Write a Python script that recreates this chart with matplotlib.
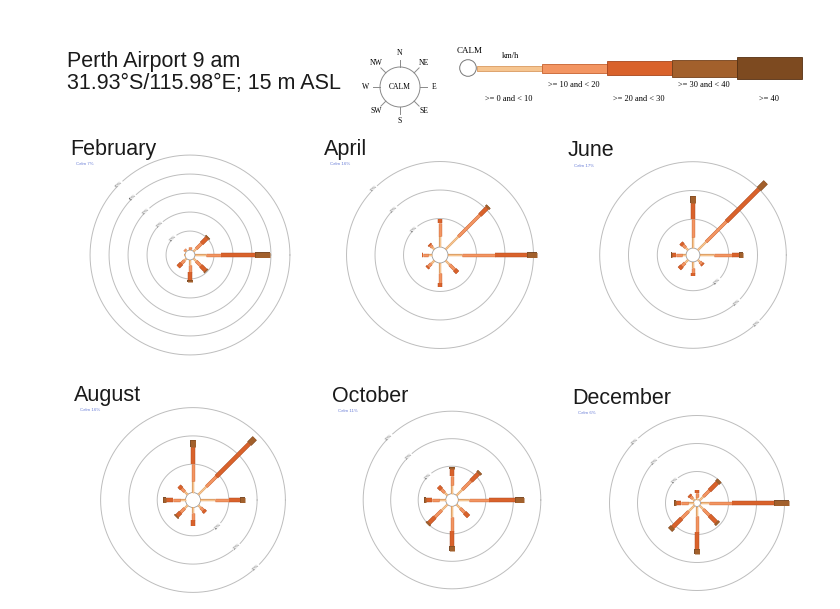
import numpy as np
import matplotlib
matplotlib.use('Agg')
import matplotlib.pyplot as plt
import matplotlib.patheffects as pe
from matplotlib.patches import Circle, Rectangle

plt.rcParams['font.family'] = 'Liberation Sans'

# wind frequency (%) per direction, split by speed class (km/h)
directions = ['N', 'NE', 'E', 'SE', 'S', 'SW', 'W', 'NW']
speed_classes = ['>= 0 and < 10', '>= 10 and < 20', '>= 20 and < 30',
                 '>= 30 and < 40', '>= 40']

months = ['February', 'April', 'June', 'August', 'October', 'December']
calm_pct = [7, 16, 17, 16, 11, 6]

feb = [[0.8, 0.9, 0, 0, 0],
       [2.0, 4.0, 4.2, 0.7, 0],
       [6.0, 7.7, 17.9, 7.7, 0],
       [2.0, 3.5, 3.5, 0.6, 0],
       [2.5, 4.0, 4.3, 0.8, 0],
       [1.5, 2.2, 2.5, 0, 0],
       [0.5, 0.3, 0, 0, 0],
       [0.7, 0.7, 0, 0, 0]]
apr = [[4.0, 4.5, 1.5, 0, 0],
       [6.3, 10.7, 3.6, 0.7, 0],
       [4.8, 11.7, 11.1, 3.5, 0],
       [2.0, 2.5, 1.4, 0, 0],
       [3.5, 3.5, 1.3, 0, 0],
       [1.5, 1.5, 0.6, 0, 0],
       [1.5, 1.5, 0.6, 0, 0],
       [1.0, 1.0, 0.5, 0, 0]]
jun = [[4.0, 6.0, 5.7, 2.3, 0],
       [4.0, 10.0, 16.0, 3.3, 0],
       [5.0, 6.2, 2.5, 1.4, 0],
       [1.0, 1.0, 0.5, 0, 0],
       [2.0, 2.0, 1.0, 0, 0],
       [1.5, 1.5, 1.3, 0, 0],
       [1.5, 2.0, 1.3, 0.5, 0],
       [1.2, 1.3, 1.0, 0, 0]]
aug = [[4.0, 6.0, 6.0, 2.6, 0],
       [4.0, 5.0, 16.5, 2.7, 0],
       [5.0, 5.0, 4.0, 1.9, 0],
       [1.2, 1.3, 1.0, 0, 0],
       [2.0, 2.5, 2.1, 0, 0],
       [1.5, 2.0, 1.8, 0.5, 0],
       [2.0, 2.5, 2.3, 1.0, 0],
       [1.5, 1.5, 1.3, 0, 0]]
octo = [[3.0, 3.5, 2.5, 0.6, 0],
        [3.0, 4.5, 3.8, 0.8, 0],
        [4.0, 7.0, 9.7, 3.3, 0],
        [2.0, 2.2, 2.0, 0, 0],
        [4.0, 5.0, 5.5, 1.6, 0],
        [3.0, 3.5, 3.0, 0.7, 0],
        [2.5, 2.5, 2.2, 0.6, 0],
        [1.5, 1.7, 1.4, 0, 0]]
dec = [[1.0, 1.3, 1.0, 0, 0],
       [2.0, 3.0, 4.0, 1.1, 0],
       [3.0, 8.3, 14.9, 5.3, 0],
       [2.0, 3.0, 3.5, 0.8, 0],
       [3.5, 5.5, 6.0, 1.9, 0],
       [3.0, 3.5, 4.5, 1.3, 0],
       [2.0, 2.5, 1.9, 0.5, 0],
       [1.0, 1.0, 0.7, 0, 0]]
month_freq = [feb, apr, jun, aug, octo, dec]
ring_pcts = [[10, 20, 30, 40, 50], [10, 20, 30], [10, 20, 30],
             [10, 20, 30], [10, 20, 30], [10, 20, 30]]

# layout: panel centres in pixels, pixels per percent, calm radius (% units)
centres = [(190, 255), (440, 255), (693, 255), (193, 500), (452, 500), (697, 503)]
px_per_pct = [1.9, 2.85, 2.88, 2.83, 2.75, 2.8]
calm_r = [2.6, 2.8, 2.4, 2.65, 2.3, 1.25]
label_ang = [135, 135, -47, -47, 135, 135]
title_xy = [(70, 149), (324, 149), (568, 151), (74, 395), (332, 396), (572, 398)]

face = ['#f6c590', '#f39562', '#d9622b', '#a2602c', '#7d4a20']
edge = ['#d99a60', '#c8612e', '#a8461c', '#73401a', '#553012']
widths = [1.0, 1.8, 2.6, 3.6, 4.5]

W, H = 840, 609
fig = plt.figure(figsize=(8.4, 6.09), dpi=100)
fig.patch.set_facecolor('white')

# pixel-coordinate canvas for header, legend and titles
bg = fig.add_axes([0, 0, 1, 1])
bg.set_xlim(0, W)
bg.set_ylim(H, 0)
bg.axis('off')

bg.text(67, 61, 'Perth Airport 9 am', fontsize=15.5, color='#1a1a1a', va='center')
bg.text(67, 84, '31.93°S/115.98°E; 15 m ASL', fontsize=15.5, color='#1a1a1a', va='center')

# compass key
cx, cy = 400, 87
bg.add_patch(Circle((cx, cy), 20, fc='white', ec='#8a8a8a', lw=0.7))
bg.text(cx, cy, 'CALM', family='Liberation Serif', fontsize=5.5, ha='center', va='center')
for i, d in enumerate(directions):
    a = np.radians(90 - 45 * i)
    bg.plot([cx + 20 * np.cos(a), cx + 27 * np.cos(a)],
            [cy - 20 * np.sin(a), cy - 27 * np.sin(a)], color='#8a8a8a', lw=0.7)
    bg.text(cx + 34 * np.cos(a), cy - 34 * np.sin(a), d, family='Liberation Serif',
            fontsize=5.5, ha='center', va='center')

# speed class key
bg.add_patch(Circle((468, 68), 8.3, fc='white', ec='#777777', lw=0.7))
bg.text(470, 51, 'CALM', family='Liberation Serif', fontsize=6.5, ha='center', va='center')
bg.text(510, 56, 'km/h', family='Liberation Serif', fontsize=6, ha='center', va='center')
key_h = [5, 9, 14, 17, 22]
for k, lab in enumerate(speed_classes):
    x0 = 477 + 65 * k
    bg.add_patch(Rectangle((x0, 68 - key_h[k] / 2), 65, key_h[k],
                           fc=face[k], ec=edge[k], lw=0.6))
    ty = 99 if k % 2 == 0 else 85
    bg.text(x0 + 32, ty, lab, family='Liberation Serif', fontsize=6,
            ha='center', va='center')

t = np.linspace(0, 2 * np.pi, 361)
S = 236
for m, name in enumerate(months):
    px, py = centres[m]
    ax = fig.add_axes([(px - S / 2) / W, 1 - (py + S / 2) / H, S / W, S / H])
    lim = (S / 2) / px_per_pct[m]
    ax.set_xlim(-lim, lim)
    ax.set_ylim(-lim, lim)
    ax.set_aspect('equal')
    ax.axis('off')
    c = calm_r[m]
    la = np.radians(label_ang[m])
    for p in ring_pcts[m]:
        r = c + p
        ax.plot(r * np.cos(t), r * np.sin(t), color='#bdbdbd', lw=0.7, zorder=1)
        ax.text(r * np.cos(la), r * np.sin(la), f'{p}%', fontsize=3, rotation=45,
                ha='center', va='center', color='#555555', zorder=2,
                bbox=dict(fc='white', ec='none', pad=0.2))
    ax.add_patch(Circle((0, 0), c, fc='white', ec='#9a9a9a', lw=0.6, zorder=3))
    for i, row in enumerate(month_freq[m]):
        a = np.radians(90 - 45 * i)
        r0 = c
        for k, v in enumerate(row):
            if v <= 0:
                continue
            r1 = r0 + v
            ax.plot([r0 * np.cos(a), r1 * np.cos(a)], [r0 * np.sin(a), r1 * np.sin(a)],
                    color=face[k], lw=widths[k], solid_capstyle='butt', zorder=4 + k,
                    path_effects=[pe.Stroke(linewidth=widths[k] + 0.6, foreground=edge[k]),
                                  pe.Normal()])
            r0 = r1

    tx, ty = title_xy[m]
    bg.text(tx, ty, name, fontsize=15.5, color='#1a1a1a', va='center')
    bg.text(tx + 6, ty + 15, f'Calm {calm_pct[m]}%', fontsize=3.2, color='#6b7fd7',
            va='center')

fig.savefig('out.png', dpi=100, facecolor='white')
